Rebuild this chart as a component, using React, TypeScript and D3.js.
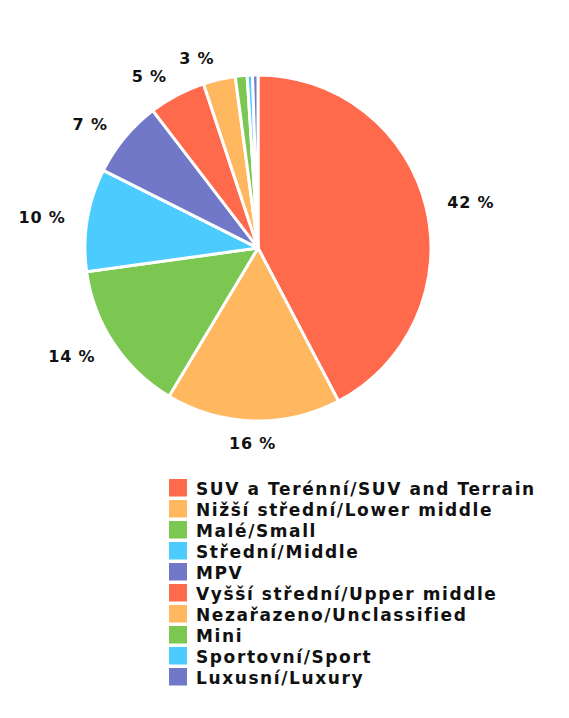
import { useEffect, useRef } from 'react';
import * as d3 from 'd3';

const categories = [
  'SUV a Terénní/SUV and Terrain',
  'Nižší střední/Lower middle',
  'Malé/Small',
  'Střední/Middle',
  'MPV',
  'Vyšší střední/Upper middle',
  'Nezařazeno/Unclassified',
  'Mini',
  'Sportovní/Sport',
  'Luxusní/Luxury',
];
const shares = [42.3, 16.3, 14.2, 9.6, 7.2, 5.3, 3.0, 1.1, 0.5, 0.5];
const colors = [
  '#ff6a4d', '#ffb760', '#7cc652', '#4ccbff', '#7178c8',
  '#ff6a4d', '#ffb760', '#7cc652', '#4ccbff', '#7178c8',
];

type Slice = { name: string; value: number; color: string };

export default function App() {
  const ref = useRef<SVGSVGElement>(null);

  useEffect(() => {
    const svg = d3.select(ref.current);
    svg.selectAll('*').remove();

    const width = 569;
    const height = 718;
    svg.attr('width', width).attr('height', height);

    const cx = 258;
    const cy = 248;
    const radius = 173;
    const labelR = 195;
    const font = "'DejaVu Sans', Verdana, sans-serif";

    const data: Slice[] = categories.map((name, i) => ({
      name,
      value: shares[i],
      color: colors[i],
    }));

    const pie = d3.pie<Slice>().value((d) => d.value).sort(null);
    const arcs = pie(data);
    const arc = d3.arc<d3.PieArcDatum<Slice>>().innerRadius(0).outerRadius(radius);

    const g = svg.append('g').attr('transform', `translate(${cx},${cy})`);

    g.selectAll('path')
      .data(arcs)
      .join('path')
      .attr('d', arc)
      .attr('fill', (d) => d.data.color)
      .attr('stroke', '#ffffff')
      .attr('stroke-width', 3)
      .attr('stroke-linejoin', 'round');

    // percent labels (small slices are not labelled)
    g.selectAll('text.pct')
      .data(arcs.filter((d) => d.data.value >= 2))
      .join('text')
      .attr('class', 'pct')
      .each(function (d) {
        const a = (d.startAngle + d.endAngle) / 2;
        const x = Math.sin(a) * labelR;
        const y = -Math.cos(a) * labelR;
        const anchor = Math.abs(x) < 40 ? 'middle' : x > 0 ? 'start' : 'end';
        d3.select(this)
          .attr('x', x)
          .attr('y', y)
          .attr('dy', '0.4em')
          .attr('text-anchor', anchor);
      })
      .attr('font-family', font)
      .attr('font-weight', 'bold')
      .attr('font-size', 16)
      .attr('letter-spacing', 0.8)
      .attr('fill', '#111')
      .text((d) => `${Math.round(d.data.value)} %`);

    // legend
    const legend = svg.append('g').attr('transform', 'translate(169,479)');
    const rows = legend
      .selectAll('g')
      .data(data)
      .join('g')
      .attr('transform', (_, i) => `translate(0,${i * 21})`);

    rows.append('rect')
      .attr('width', 18)
      .attr('height', 17.5)
      .attr('fill', (d) => d.color);

    rows.append('text')
      .attr('x', 27)
      .attr('y', 10)
      .attr('dy', '0.35em')
      .attr('font-family', font)
      .attr('font-weight', 'bold')
      .attr('font-size', 17)
      .attr('letter-spacing', 1.6)
      .attr('fill', '#111')
      .text((d) => d.name);
  }, []);

  return (
    <div style={{ position: 'absolute', left: 0, top: 0 }}>
      <svg ref={ref}></svg>
    </div>
  );
}
